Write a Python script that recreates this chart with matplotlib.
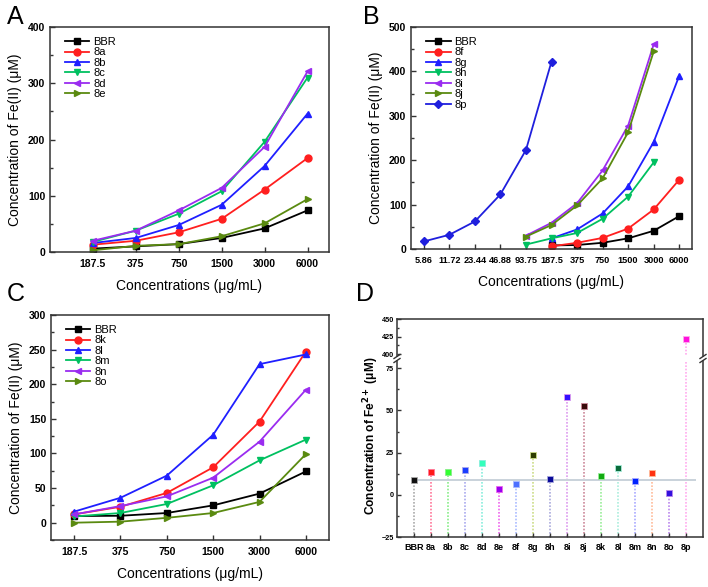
import numpy as np
import matplotlib
matplotlib.use("Agg")
import matplotlib.pyplot as plt
from matplotlib.ticker import MultipleLocator

plt.rcParams['font.family'] = ['Liberation Sans', 'DejaVu Sans']

nan = np.nan

# ---------------- Panel A ----------------
A_cats = ['187.5', '375', '750', '1500', '3000', '6000']
A_BBR = [6, 10, 14, 25, 42, 74]
A_8a = [13, 20, 35, 59, 111, 167]
A_8b = [16, 25, 48, 84, 153, 246]
A_8c = [18, 38, 68, 108, 196, 310]
A_8d = [20, 38, 74, 114, 187, 321]
A_8e = [3, 11, 14, 28, 51, 94]
A_names = ['BBR', '8a', '8b', '8c', '8d', '8e']

# ---------------- Panel B ----------------
B_cats = ['5.86', '11.72', '23.44', '46.88', '93.75', '187.5', '375', '750', '1500', '3000', '6000']
B_BBR = [nan, nan, nan, nan, nan, 8, 9, 14, 24, 41, 74]
B_8f = [nan, nan, nan, nan, nan, 6, 14, 25, 46, 89, 156]
B_8g = [nan, nan, nan, nan, nan, 24, 44, 80, 141, 241, 390]
B_8h = [nan, nan, nan, nan, 10, 24, 36, 68, 118, 195, nan]
B_8i = [nan, nan, nan, nan, 30, 59, 103, 177, 278, 461, nan]
B_8j = [nan, nan, nan, nan, 28, 54, 98, 159, 263, 445, nan]
B_8p = [17, 32, 62, 123, 223, 422, nan, nan, nan, nan, nan]
B_names = ['BBR', '8f', '8g', '8h', '8i', '8j', '8p']

# ---------------- Panel C ----------------
C_cats = ['187.5', '375', '750', '1500', '3000', '6000']
C_BBR = [9.6, 10, 14, 25, 42, 74]
C_8k = [12, 23, 43, 80, 146, 247]
C_8l = [16, 36, 68, 127, 229, 243]
C_8m = [9, 14, 27, 54, 90, 120]
C_8n = [12, 24, 38, 65, 117, 192]
C_8o = [0, 1.5, 7, 14, 30, 99]
C_names = ['BBR', '8k', '8l', '8m', '8n', '8o']

# ---------------- Panel D ----------------
D_cats = ['BBR', '8a', '8b', '8c', '8d', '8e', '8f', '8g', '8h', '8i', '8j',
          '8k', '8l', '8m', '8n', '8o', '8p']
D_vals = [8.7, 13.8, 13.8, 15.0, 18.7, 3.7, 6.3, 23.6, 9.3, 57.7, 52.8,
          11.4, 15.6, 8.3, 13.0, 0.8, 422.0]

# ---------------- styles ----------------
line_colors = ['#000000', '#ff1f1f', '#1f1fff', '#00c060', '#9a2cf0', '#5a8a10']
line_markers = ['s', 'o', '^', 'v', '<', '>']
B_colors = ['#000000', '#ff1f1f', '#1f1fff', '#00c060', '#9a2cf0', '#5a8a10', '#1f1fdd']
B_markers = ['s', 'o', '^', 'v', '<', '>', 'D']

D_mcolors = ['#111111', '#ff1a1a', '#33ff33', '#1a3dff', '#33ffbb', '#9900ee', '#4d70ff',
             '#2e3d00', '#0a0a99', '#3311ff', '#3a0a0a', '#11aa11', '#0b6b3a', '#0022ff',
             '#ff3311', '#3311dd', '#ff11dd']
D_scolors = ['#aaaaaa', '#ff7799', '#88ee88', '#aaaaee', '#88eedd', '#ee66ee', '#aabbff',
             '#ccdd88', '#aaaadd', '#dd99ee', '#cc8899', '#99ee99', '#aaeedd', '#aaaaff',
             '#ffbb99', '#bb88ee', '#ffaaee']

W, H = 708, 587
fig = plt.figure(figsize=(W / 100, H / 100), dpi=100)


def box(l, t, r, b):
    return [l / W, 1 - b / H, (r - l) / W, (b - t) / H]


TICK_FS = 7.5
LAB_FS = 10


def style_axes(ax):
    for s in ax.spines.values():
        s.set_linewidth(1.1)
        s.set_color('#333333')
    ax.tick_params(axis='both', which='both', direction='in', top=False, right=False,
                   labelsize=TICK_FS, width=1.0, color='#333333')
    ax.tick_params(axis='both', which='major', length=3.5)
    ax.tick_params(axis='both', which='minor', length=2)
    ax.tick_params(axis='x', pad=5)
    for lbl in ax.get_xticklabels() + ax.get_yticklabels():
        lbl.set_fontweight('bold')


def line_panel(ax, cats, series, names, colors, markers, ylim, major, minor, xlim, letter_xy, letter):
    x = np.arange(len(cats))
    for ys, nm, c, m in zip(series, names, colors, markers):
        ax.plot(x, ys, color=c, marker=m, markersize=5 if m != 'D' else 4.5,
                linewidth=1.3, label=nm)
    ax.set_xticks(x)
    ax.set_xticklabels(cats)
    ax.set_xlim(*xlim)
    ax.set_ylim(*ylim)
    ax.yaxis.set_major_locator(MultipleLocator(major))
    ax.yaxis.set_minor_locator(MultipleLocator(minor))
    ax.set_xlabel('Concentrations (μg/mL)', fontsize=LAB_FS, labelpad=7)
    ax.set_ylabel('Concentration of Fe(II) (μM)', fontsize=LAB_FS, labelpad=4)
    style_axes(ax)
    ax.legend(loc='upper left', bbox_to_anchor=(0.03, 0.985), frameon=False,
              fontsize=8, handlelength=2.2, labelspacing=0.04, handletextpad=0.35,
              borderaxespad=0.2)
    fig.text(letter_xy[0] / W, 1 - letter_xy[1] / H, letter, fontsize=18,
             ha='left', va='top')


# Panel A
axA = fig.add_axes(box(50, 27, 329, 252))
line_panel(axA, A_cats, [A_BBR, A_8a, A_8b, A_8c, A_8d, A_8e], A_names,
           line_colors, line_markers, (0, 400), 100, 50, (-1, 5.5), (7, 5), 'A')

# Panel B
axB = fig.add_axes(box(411, 27, 692, 249))
line_panel(axB, B_cats, [B_BBR, B_8f, B_8g, B_8h, B_8i, B_8j, B_8p], B_names,
           B_colors, B_markers, (0, 500), 100, 50, (-0.5, 10.5), (363, 5), 'B')
axB.tick_params(axis='x', labelsize=6.6, pad=5)

# Panel C
axC = fig.add_axes(box(51, 315, 329, 540))
line_panel(axC, C_cats, [C_BBR, C_8k, C_8l, C_8m, C_8n, C_8o], C_names,
           line_colors, line_markers, (-25, 300), 50, 25, (-0.5, 5.5), (7, 282), 'C')

# Panel D (broken axis)
axDt = fig.add_axes(box(397, 319, 703, 356))
axDb = fig.add_axes(box(397, 361, 703, 537))
xD = np.arange(len(D_cats))
for ax, lo, hi in [(axDt, 397.6, 450), (axDb, -25, 79.3)]:
    ax.set_ylim(lo, hi)
    ax.set_xlim(-1, len(D_cats))
    for xi, v, mc, sc in zip(xD, D_vals, D_mcolors, D_scolors):
        ax.vlines(xi, -25, v, colors=sc, linestyles=(0, (1, 1)), linewidth=1.2, zorder=1)
        ax.plot([xi], [v], marker='s', markersize=5, color=mc, markeredgecolor=sc,
                markeredgewidth=0.6, zorder=3, linestyle='none')
    ax.hlines(D_vals[0], -0.2, len(D_cats) - 0.4, colors='#c9d2da', linewidth=1.4, zorder=2)
    for s in ax.spines.values():
        s.set_linewidth(1.1)
        s.set_color('#333333')
    ax.tick_params(axis='both', which='both', direction='in', top=False, right=False,
                   labelsize=5.2, width=1.0, color='#333333', pad=2)
    ax.tick_params(axis='both', which='major', length=3)
    ax.tick_params(axis='both', which='minor', length=1.6)

axDt.spines['bottom'].set_visible(False)
axDb.spines['top'].set_visible(False)
axDt.set_xticks([])
axDt.yaxis.set_major_locator(MultipleLocator(25))
axDt.yaxis.set_minor_locator(MultipleLocator(12.5))
axDb.yaxis.set_major_locator(MultipleLocator(25))
axDb.yaxis.set_minor_locator(MultipleLocator(12.5))
axDb.set_xticks(xD)
axDb.set_xticklabels(D_cats)
axDb.tick_params(axis='x', labelsize=6.5, pad=4)
for lbl in axDb.get_xticklabels() + axDb.get_yticklabels() + axDt.get_yticklabels():
    lbl.set_fontweight('bold')

# break marks
for xf in (397 / W, 703 / W):
    for yb in (356.5, 360.5):
        fig.add_artist(plt.Line2D([xf - 3 / W, xf + 3 / W],
                                  [1 - (yb + 2) / H, 1 - (yb - 2) / H],
                                  color='#333333', linewidth=1.0))

fig.text(371 / W, 1 - 436 / H, 'Concentration of Fe$^{\\mathbf{2+}}$ (μM)', rotation=90,
         fontsize=8.6, fontweight='bold', ha='center', va='center')
fig.text(356 / W, 1 - 282 / H, 'D', fontsize=18, ha='left', va='top')

fig.savefig('out.png', dpi=100)
